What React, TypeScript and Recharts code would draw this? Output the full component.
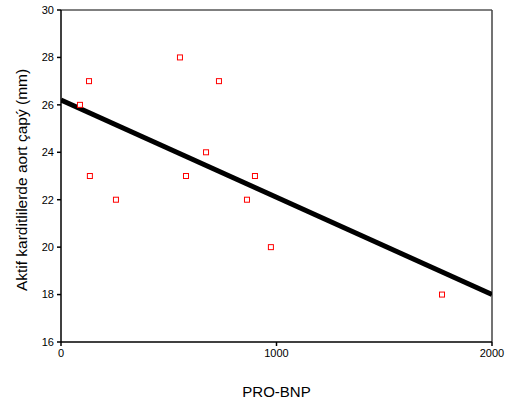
import React from 'react';
import { ScatterChart, Scatter, XAxis, YAxis, ReferenceLine, Label } from 'recharts';

const proBnp = [88, 130, 134, 255, 552, 580, 673, 733, 863, 900, 974, 1768];
const aortDiameter = [26, 27, 23, 22, 28, 23, 24, 27, 22, 23, 20, 18];
const fitX = [0, 2000];
const fitY = [26.2, 18.0];
const xTicks = [0, 1000, 2000];
const yTicks = [16, 18, 20, 22, 24, 26, 28, 30];
const yTitle = 'Aktif karditlilerde aort çapý (mm)';
const xTitle = 'PRO-BNP';

const points = proBnp.map((x, i) => ({ x, y: aortDiameter[i] }));
const fitLine = fitX.map((x, i) => ({ x, y: fitY[i] }));

const font = '"Liberation Sans", Arial, sans-serif';

const OpenSquare = (props: any) => {
  const { cx, cy } = props;
  if (cx == null || cy == null) return null;
  return <rect x={cx - 2.5} y={cy - 2.5} width={5} height={5} fill="#fff" stroke="#ff0000" strokeWidth={1} />;
};

const NoShape = () => null;

const YTitle = (props: any) => {
  const vb = props.viewBox || {};
  const cx = (vb.x ?? 0) + 21;
  const cy = (vb.y ?? 0) + (vb.height ?? 0) / 2 + 4;
  return (
    <text
      x={cx}
      y={cy}
      transform={`rotate(-90, ${cx}, ${cy})`}
      textAnchor="middle"
      dominantBaseline="central"
      style={{ fontSize: 15.5, fontFamily: font, fill: '#000' }}
    >
      {yTitle}
    </text>
  );
};

export default function App() {
  return (
    <div style={{ position: 'absolute', left: 0, top: 0, background: '#fff' }}>
      <ScatterChart width={509} height={410} margin={{ top: 10, right: 17, bottom: 0, left: 0 }}>
        <XAxis
          type="number"
          dataKey="x"
          domain={[0, 2000]}
          ticks={xTicks}
          height={68}
          tickSize={4}
          tickMargin={3}
          axisLine={{ stroke: '#000', strokeWidth: 1.5 }}
          tickLine={{ stroke: '#000', strokeWidth: 1.5 }}
          tick={{ fill: '#000', fontSize: 11, fontFamily: font }}
          allowDataOverflow
        >
          <Label value={xTitle} position="insideBottom" offset={13} style={{ fontSize: 15, fontFamily: font, fill: '#000' }} />
        </XAxis>
        <YAxis
          type="number"
          dataKey="y"
          domain={[16, 30]}
          ticks={yTicks}
          width={61}
          tickSize={4}
          tickMargin={3}
          axisLine={{ stroke: '#000', strokeWidth: 1.5 }}
          tickLine={{ stroke: '#000', strokeWidth: 1.5 }}
          tick={{ fill: '#000', fontSize: 11, fontFamily: font }}
          allowDataOverflow
        >
          <Label content={YTitle} />
        </YAxis>
        <ReferenceLine y={30} stroke="#000" strokeWidth={1} />
        <ReferenceLine x={2000} stroke="#444" strokeWidth={1.5} />
        <Scatter data={fitLine} line={{ stroke: '#000', strokeWidth: 5 }} shape={NoShape} isAnimationActive={false} />
        <Scatter data={points} shape={OpenSquare} isAnimationActive={false} />
      </ScatterChart>
    </div>
  );
}
